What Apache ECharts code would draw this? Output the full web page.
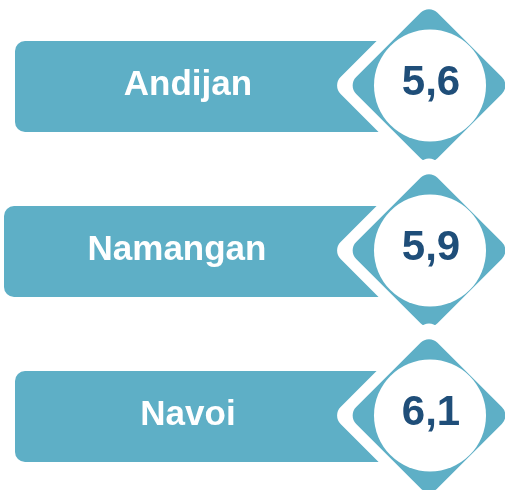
<!DOCTYPE html>
<html>
<head>
<meta charset="utf-8">
<style>
  html, body { margin: 0; padding: 0; background: #fff; }
  #chart { width: 505px; height: 490px; }
</style>
<script src="https://cdn.jsdelivr.net/npm/echarts@6/dist/echarts.min.js"></script>
</head>
<body>
<div id="chart"></div>
<script>
const categories = ['Andijan', 'Namangan', 'Navoi'];
const values = [5.6, 5.9, 6.1];

const teal = '#5eafc6';
const navy = '#1f4e79';
const font = '"Liberation Sans", Arial, sans-serif';

const chart = echarts.init(document.getElementById('chart'));

function renderItem(params, api) {
  const idx = api.value(1);
  const cy = api.coord([0, idx])[1];
  // row 2 sits a bit further left in the original
  const left = idx === 1 ? 4 : 15;
  const cx = 429;
  const barH = 91;
  const inner = 115;
  const outer = 137;
  const text = api.value(0).toFixed(1).replace('.', ',');
  return {
    type: 'group',
    children: [
      {
        type: 'rect',
        shape: { x: left, y: cy - barH / 2, width: 380 - left, height: barH, r: [10, 0, 0, 10] },
        style: { fill: teal }
      },
      {
        type: 'text',
        style: {
          text: categories[idx],
          x: left + 173,
          y: cy - 1,
          align: 'center',
          verticalAlign: 'middle',
          fill: '#fff',
          font: 'bold 35px ' + font
        }
      },
      {
        type: 'rect',
        shape: { x: cx - outer / 2, y: cy - 1 - outer / 2, width: outer, height: outer, r: 12 },
        rotation: Math.PI / 4,
        originX: cx,
        originY: cy - 1,
        style: { fill: '#fff' }
      },
      {
        type: 'rect',
        shape: { x: cx - inner / 2, y: cy - 1 - inner / 2, width: inner, height: inner, r: 12 },
        rotation: Math.PI / 4,
        originX: cx,
        originY: cy - 1,
        style: { fill: teal }
      },
      {
        type: 'circle',
        shape: { cx: cx + 1, cy: cy - 1, r: 56 },
        style: { fill: '#fff' }
      },
      {
        type: 'text',
        style: {
          text: text,
          x: cx + 2,
          y: cy - 3,
          align: 'center',
          verticalAlign: 'middle',
          fill: navy,
          font: 'bold 42px ' + font
        }
      }
    ]
  };
}

chart.setOption({
  animation: false,
  grid: { left: 0, top: 4, width: 505, height: 495, outerBoundsMode: 'none', containLabel: false },
  xAxis: { type: 'value', min: 0, max: 10, show: false },
  yAxis: { type: 'category', data: categories, inverse: true, show: false },
  series: [
    {
      type: 'custom',
      renderItem: renderItem,
      encode: { x: 0, y: 1 },
      clip: false,
      data: values.map((v, i) => [v, i])
    }
  ]
});
</script>
</body>
</html>
